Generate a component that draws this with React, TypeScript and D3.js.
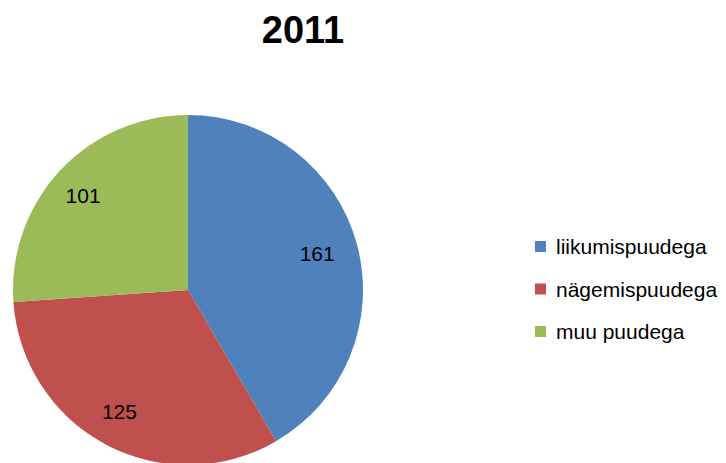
import React from "react";
import * as d3 from "d3";

const categories = ["liikumispuudega", "nägemispuudega", "muu puudega"];
const values = [161, 125, 101];
const colors = ["#4F81BD", "#C0504D", "#9BBB59"];
const title = "2011";

export default function App() {
  const width = 726;
  const height = 463;
  const cx = 188;
  const cy = 290;
  const r = 175;

  const pie = d3.pie<number>().sort(null).value((d) => d);
  const arcs = pie(values);
  const arc = d3.arc<d3.PieArcDatum<number>>().innerRadius(0).outerRadius(r);
  const labelArc = d3
    .arc<d3.PieArcDatum<number>>()
    .innerRadius(138)
    .outerRadius(138);

  const legendX = 535;
  const legendY = d3.scalePoint<string>().domain(categories).range([247, 332]);

  return (
    <svg
      width={width}
      height={height}
      style={{ position: "absolute", left: 0, top: 0, background: "#fff" }}
    >
      <text
        x={303}
        y={43}
        textAnchor="middle"
        fontFamily="Liberation Sans, Arial, sans-serif"
        fontWeight="bold"
        fontSize={38}
        fill="#000"
      >
        {title}
      </text>
      <g transform={`translate(${cx},${cy})`}>
        {arcs.map((a, i) => (
          <path key={i} d={arc(a) || ""} fill={colors[i]} />
        ))}
        {arcs.map((a, i) => {
          const [x, y] = labelArc.centroid(a);
          return (
            <text
              key={"l" + i}
              x={x - 4}
              y={y}
              dy="0.35em"
              textAnchor="middle"
              fontFamily="Liberation Sans, Arial, sans-serif"
              fontSize={21}
              fill="#000"
            >
              {values[i]}
            </text>
          );
        })}
      </g>
      {categories.map((c, i) => {
        const y = legendY(c) as number;
        return (
          <g key={c}>
            <rect x={legendX} y={y - 6} width={11} height={11} fill={colors[i]} />
            <text
              x={legendX + 21}
              y={y}
              dy="0.35em"
              fontFamily="Liberation Sans, Arial, sans-serif"
              fontSize={21}
              fill="#000"
            >
              {c}
            </text>
          </g>
        );
      })}
    </svg>
  );
}
